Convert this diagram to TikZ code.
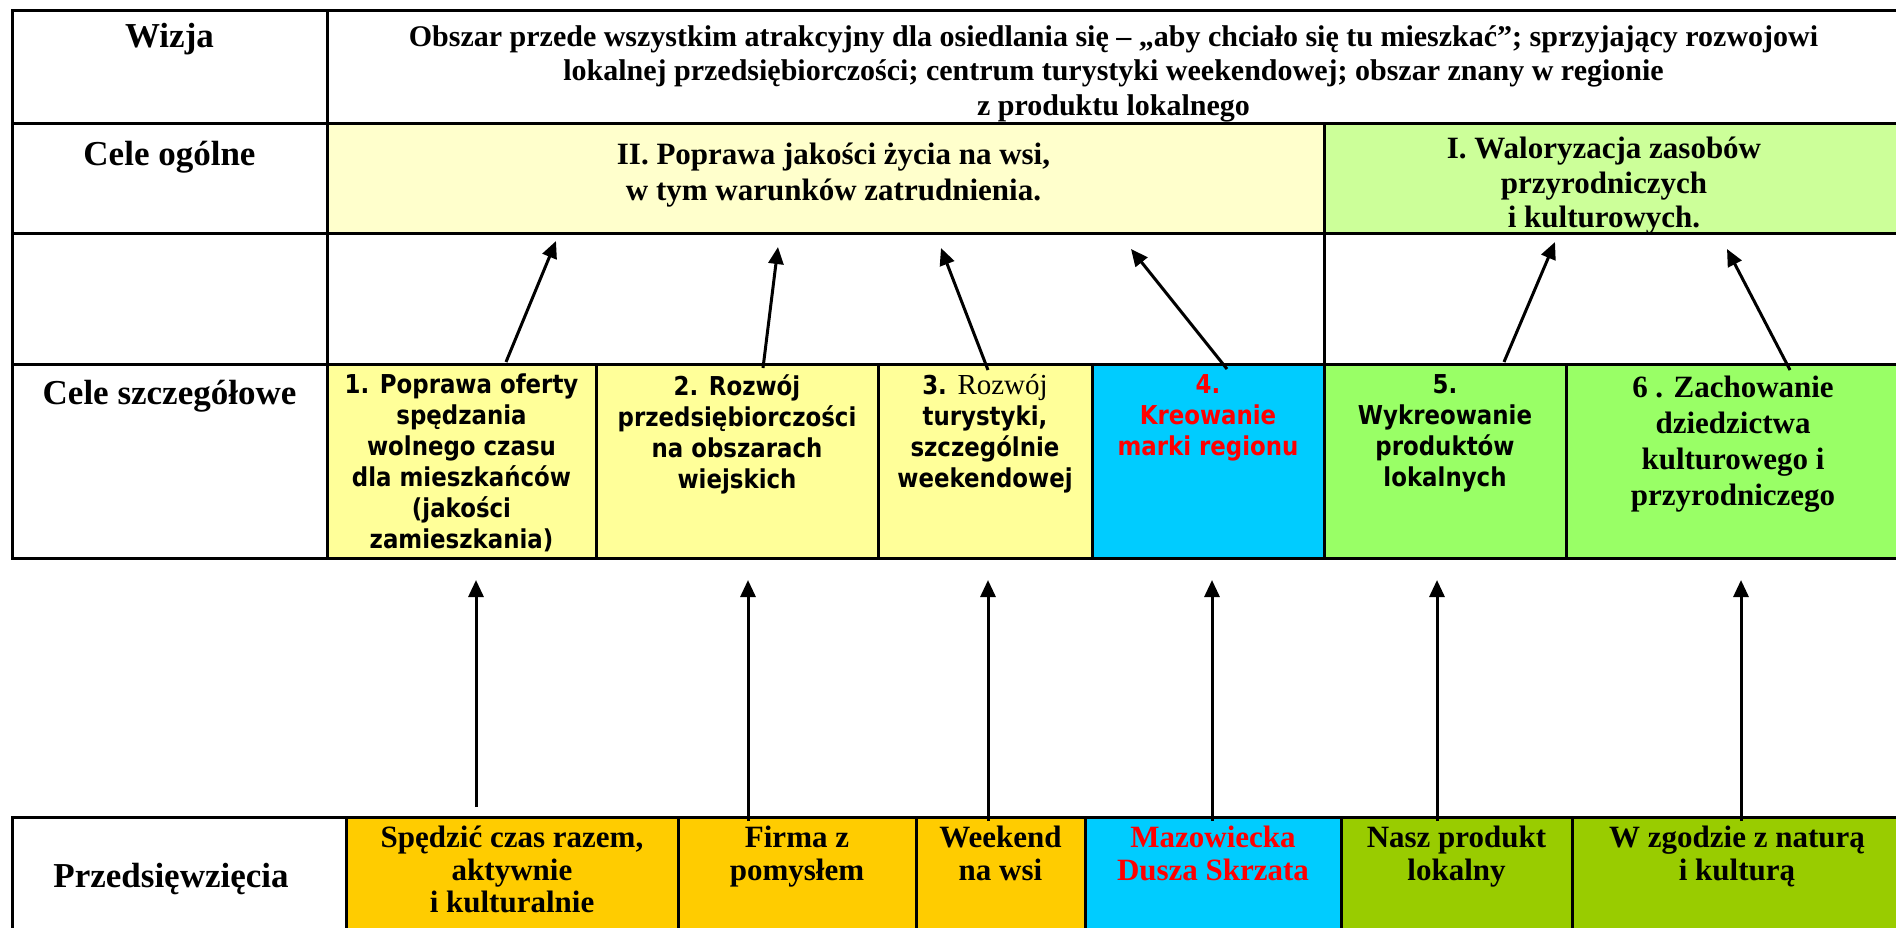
\documentclass[tikz,border=0pt]{standalone}
\usepackage{fontspec}
\setmainfont{Liberation Serif}
\newfontfamily\tahfont{DejaVu Sans}[FakeStretch=0.88]
\usepackage{xcolor}
\usepackage{tikz}
\usetikzlibrary{arrows.meta, calc, positioning}

\definecolor{paleyellow}{HTML}{FFFFCC}
\definecolor{palegreen}{HTML}{CCFF99}
\definecolor{celyellow}{HTML}{FFFF99}
\definecolor{celblue}{HTML}{00CCFF}
\definecolor{celgreen}{HTML}{99FF66}
\definecolor{taskorange}{HTML}{FFCC00}
\definecolor{taskgreen}{HTML}{99CC00}

\tikzset{
  cell/.style={draw, line width=3pt, anchor=north west, inner sep=0pt, outer sep=0pt},
  rowlabel/.style={font=\fontsize{35}{40}\selectfont\bfseries, inner sep=0pt, anchor=north},
  visiontxt/.style={font=\fontsize{30}{34.5}\selectfont\bfseries, inner sep=0pt, anchor=north},
  goaltxt/.style={font=\fontsize{31}{36}\selectfont\bfseries, inner sep=0pt, anchor=north},
  sanstxt/.style={font=\fontsize{26}{31}\selectfont\tahfont\bfseries, inner sep=0pt, anchor=north},
  serifcell/.style={font=\fontsize{31}{36}\selectfont\bfseries, inner sep=0pt, anchor=north},
  tasktxt/.style={font=\fontsize{31}{32.5}\selectfont\bfseries, inner sep=0pt, anchor=north},
  arr/.style={->, line width=3pt}
}

\begin{document}
\begin{tikzpicture}[x=1pt, y=-1pt, >={Triangle[length=17pt,width=15pt]}, every node/.append style={align=center}]
\useasboundingbox (0,0) rectangle (1896,927);

% gorna tabela
\node [cell, minimum width=315, minimum height=113] (wizjaL) at (12,10) {};
\node [cell, minimum width=1573, minimum height=113] (wizjaT) at (327,10) {};
\node [cell, minimum width=315, minimum height=110] (ogolneL) at (12,123) {};
\node [cell, fill=paleyellow, minimum width=997, minimum height=110] (og2) at (327,123) {};
\node [cell, fill=palegreen, minimum width=576, minimum height=110] (og1) at (1324,123) {};
\node [cell, minimum width=315, minimum height=131] (pustyL) at (12,233) {};
\node [cell, minimum width=997, minimum height=131] (pusty2) at (327,233) {};
\node [cell, minimum width=576, minimum height=131] (pusty1) at (1324,233) {};
\node [cell, minimum width=315, minimum height=194] (szczL) at (12,364) {};
\node [cell, fill=celyellow, minimum width=269, minimum height=194] (d1) at (327,364) {};
\node [cell, fill=celyellow, minimum width=282, minimum height=194] (d2) at (596,364) {};
\node [cell, fill=celyellow, minimum width=214, minimum height=194] (d3) at (878,364) {};
\node [cell, fill=celblue, minimum width=232, minimum height=194] (d4) at (1092,364) {};
\node [cell, fill=celgreen, minimum width=242, minimum height=194] (d5) at (1324,364) {};
\node [cell, fill=celgreen, minimum width=334, minimum height=194] (d6) at (1566,364) {};

% dolna tabela
\node [cell, minimum width=334, minimum height=125] (przedL) at (12,817) {};
\node [cell, fill=taskorange, minimum width=332, minimum height=125] (b1) at (346,817) {};
\node [cell, fill=taskorange, minimum width=238, minimum height=125] (b2) at (678,817) {};
\node [cell, fill=taskorange, minimum width=169, minimum height=125] (b3) at (916,817) {};
\node [cell, fill=celblue, minimum width=256, minimum height=125] (b4) at (1085,817) {};
\node [cell, fill=taskgreen, minimum width=231, minimum height=125] (b5) at (1341,817) {};
\node [cell, fill=taskgreen, minimum width=330, minimum height=125] (b6) at (1572,817) {};

% teksty
\node [rowlabel, below=13pt of wizjaL.north] (tWizja) {Wizja};
\node [visiontxt, below=15pt of wizjaT.north] (tVision) {Obszar przede wszystkim atrakcyjny dla osiedlania się – „aby chciało się tu mieszkać”; sprzyjający rozwojowi\\ lokalnej przedsiębiorczości; centrum turystyki weekendowej; obszar znany w regionie\\ z produktu lokalnego};
\node [rowlabel, below=18pt of ogolneL.north] (tOgolne) {Cele ogólne};
\node [goaltxt, below=20pt of og2.north, xshift=8pt] (tOg2) {II. Poprawa jakości życia na wsi,\\ w tym warunków zatrudnienia.};
\node [goaltxt, font=\fontsize{31}{34.5}\selectfont\bfseries, below=14pt of og1.north, xshift=-8pt] (tOg1) {I. Waloryzacja zasobów\\ przyrodniczych\\ i kulturowych.};
\node [rowlabel, below=16pt of szczL.north] (tSzcz) {Cele szczegółowe};
\node [sanstxt, below=10pt of d1.north] (tD1) {1. Poprawa oferty\\ spędzania\\ wolnego czasu\\ dla mieszkańców\\ (jakości\\ zamieszkania)};
\node [sanstxt, below=10pt of d2.north] (tD2) {2. Rozwój\\ przedsiębiorczości\\ na obszarach\\ wiejskich};
\node [sanstxt, below=10pt of d3.north] (tD3) {3. {\rmfamily\mdseries\fontsize{29}{31}\selectfont Rozwój}\\ turystyki,\\ szczególnie\\ weekendowej};
\node [sanstxt, text=red, below=10pt of d4.north] (tD4) {4.\\ Kreowanie\\ marki regionu};
\node [sanstxt, below=10pt of d5.north] (tD5) {5.\\ Wykreowanie\\ produktów\\ lokalnych};
\node [serifcell, below=12pt of d6.north] (tD6) {6 . Zachowanie\\ dziedzictwa\\ kulturowego i\\ przyrodniczego};
\node [rowlabel, below=46pt of przedL.north, xshift=-8pt] (tPrzed) {Przedsięwzięcia};
\node [tasktxt, below=9pt of b1.north] (tB1) {Spędzić czas razem,\\ aktywnie\\ i kulturalnie};
\node [tasktxt, below=9pt of b2.north] (tB2) {Firma z\\ pomysłem};
\node [tasktxt, below=9pt of b3.north] (tB3) {Weekend\\ na wsi};
\node [tasktxt, text=red, below=9pt of b4.north] (tB4) {Mazowiecka\\ Dusza Skrzata};
\node [tasktxt, below=9pt of b5.north] (tB5) {Nasz produkt\\ lokalny};
\node [tasktxt, below=9pt of b6.north] (tB6) {W zgodzie z naturą\\ i kulturą};

% strzalki cele szczegolowe -> cele ogolne
\draw [arr] ($(d1.north west)+(179,-2)$) -- ($(og2.south west)+(229,8)$);
\draw [arr] ($(d2.north west)+(167,4)$) -- ($(og2.south west)+(451,14)$);
\draw [arr] ($(d3.north west)+(110,6)$) -- ($(og2.south west)+(614,15)$);
\draw [arr] ($(d4.north west)+(135,5)$) -- ($(og2.south west)+(804,16)$);
\draw [arr] ($(d5.north west)+(180,-2)$) -- ($(og1.south west)+(231,9)$);
\draw [arr] ($(d6.north west)+(224,6)$) -- ($(og1.south west)+(403,16)$);

% strzalki przedsiewziecia -> cele szczegolowe
\draw [arr] ($(b1.north west)+(130,-10)$) -- ($(d1.south west)+(149,22)$);
\draw [arr] ($(b2.north west)+(70,4)$) -- ($(d2.south west)+(152,22)$);
\draw [arr] ($(b3.north west)+(72,4)$) -- ($(d3.south west)+(110,22)$);
\draw [arr] ($(b4.north west)+(127,4)$) -- ($(d4.south west)+(120,22)$);
\draw [arr] ($(b5.north west)+(96,4)$) -- ($(d5.south west)+(113,22)$);
\draw [arr] ($(b6.north west)+(169,4)$) -- ($(d6.south west)+(175,22)$);
\end{tikzpicture}
\end{document}
